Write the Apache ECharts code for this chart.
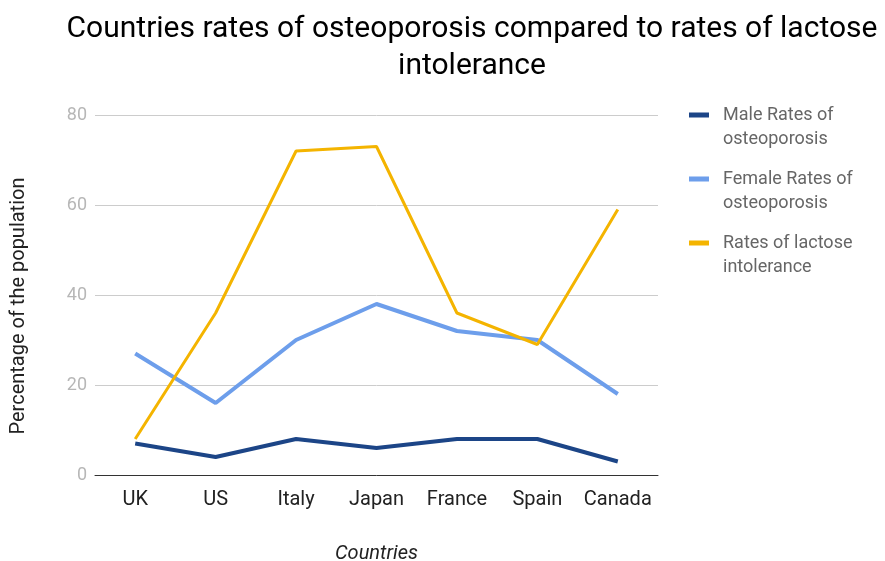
<!DOCTYPE html>
<html>
<head>
<meta charset="utf-8">
<script src="https://cdn.jsdelivr.net/npm/echarts@6/dist/echarts.min.js"></script>
<style>
  html, body { margin: 0; padding: 0; background: #fff; }
  #chart { width: 885px; height: 561px; }
</style>
</head>
<body>
<div id="chart"></div>
<script>
// Countries along the x axis
const countries = ['UK', 'US', 'Italy', 'Japan', 'France', 'Spain', 'Canada'];

// Percent of population per country
const maleOsteoporosis = [7, 4, 8, 6, 8, 8, 3];
const femaleOsteoporosis = [27, 16, 30, 38, 32, 30, 18];
const lactoseIntolerance = [8, 36, 72, 73, 36, 29, 59];

// Series names as shown in the legend
const seriesNames = [
  'Male Rates of\nosteoporosis',
  'Female Rates of\nosteoporosis',
  'Rates of lactose\nintolerance'
];

// Legend swatch: a short bar sitting at the top of a 29x29 box, so it lines up
// with the first line of each two-line legend label
const legendSwatch = 'path://M0,0h20v5h-20z M29,29h0.01v0.01h-0.01z';

const chart = echarts.init(document.getElementById('chart'), null, { renderer: 'canvas' });

const lineSeries = (name, data, color, width) => ({
  name: name,
  type: 'line',
  data: data,
  symbol: 'none',
  showSymbol: false,
  lineStyle: { color: color, width: width },
  itemStyle: { color: color },
  emphasis: { disabled: true },
  animation: false
});

chart.setOption({
  animation: false,
  textStyle: { fontFamily: 'Roboto' },
  title: {
    text: 'Countries rates of osteoporosis compared to rates of lactose\nintolerance',
    left: 472,
    textAlign: 'center',
    top: 11,
    padding: 0,
    textStyle: {
      fontFamily: 'Roboto',
      fontSize: 30,
      fontWeight: 'normal',
      color: '#000',
      lineHeight: 37
    }
  },
  legend: {
    orient: 'vertical',
    left: 689,
    top: 103,
    padding: 0,
    itemWidth: 29,
    itemHeight: 29,
    itemGap: 16,
    icon: legendSwatch,
    selectedMode: false,
    textStyle: {
      fontFamily: 'Roboto',
      fontSize: 18,
      color: '#666',
      lineHeight: 24
    },
    data: seriesNames
  },
  grid: { left: 95, right: 227, top: 115, bottom: 86, outerBoundsMode: 'none' },
  xAxis: {
    type: 'category',
    data: countries,
    boundaryGap: true,
    name: 'Countries',
    nameLocation: 'middle',
    nameGap: 69,
    nameTextStyle: { fontStyle: 'italic', fontSize: 20, color: '#222', fontFamily: 'Roboto' },
    axisLine: { lineStyle: { color: '#333', width: 1 } },
    axisTick: { show: false },
    axisLabel: { interval: 0, fontSize: 20, color: '#222', margin: 15, fontFamily: 'Roboto' }
  },
  yAxis: {
    type: 'value',
    min: 0,
    max: 80,
    interval: 20,
    name: 'Percentage of the population',
    nameLocation: 'middle',
    nameGap: 66,
    nameTextStyle: { fontSize: 20, color: '#222', fontFamily: 'Roboto', padding: [0, 22, 0, 0] },
    axisLine: { show: false },
    axisTick: { show: false },
    splitLine: { lineStyle: { color: '#cccccc', width: 1 } },
    axisLabel: { fontSize: 18, color: '#b7b7b7', margin: 8, fontFamily: 'Roboto' }
  },
  series: [
    lineSeries(seriesNames[0], maleOsteoporosis, '#1c4587', 4),
    lineSeries(seriesNames[1], femaleOsteoporosis, '#6d9eeb', 4),
    lineSeries(seriesNames[2], lactoseIntolerance, '#f4b400', 3)
  ]
});
</script>
</body>
</html>
